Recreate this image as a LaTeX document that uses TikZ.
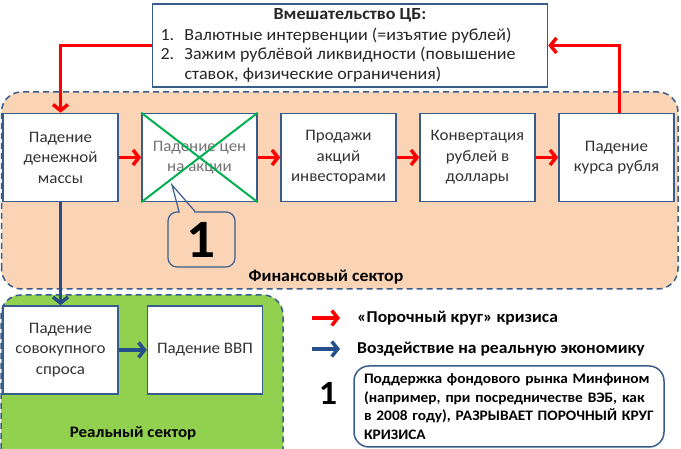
\documentclass[tikz,border=0pt]{standalone}
\usepackage{fontspec}
\setmainfont{Carlito}[FakeStretch=1.06]
\usetikzlibrary{arrows.meta}
\usetikzlibrary{positioning}
\definecolor{ramka}{HTML}{385D8A}
\definecolor{temno}{HTML}{254F8A}
\definecolor{persik}{HTML}{FBD4B6}
\definecolor{trava}{HTML}{92D050}
\definecolor{krestik}{HTML}{00B050}
\tikzset{
    blok/.style={
           rectangle,
           draw=ramka, line width=1.5pt,
           fill=white,
           minimum width=115pt, minimum height=88pt,
           inner sep=2pt,
           align=center,
           text=black!80,
           font=\fontsize{16}{20.5}\selectfont,
           },
}
\tikzset{
    zona/.style={
           draw=ramka, line width=1.5pt,
           dash pattern=on 6pt off 4pt,
           rounded corners=20pt,
           },
}
\tikzset{
    krug/.style={
           draw=red, line width=3.5pt,
           -{Straight Barb[length=6pt,width=15pt]},
           },
    vliyanie/.style={
           draw=temno, line width=3.5pt,
           -{Straight Barb[length=6pt,width=15pt]},
           },
    legenda/.style={
           anchor=west, inner sep=0pt,
           font=\fontsize{16.6}{19}\selectfont\bfseries,
           },
}

\begin{document}
\begin{tikzpicture}[x=1pt,y=1pt,node distance=139pt]
\useasboundingbox (0,0) rectangle (681,449);
\clip (0,0) rectangle (681,449);
% zones
\draw[zona,fill=persik] (1.5,160) rectangle (678,357);
\draw[zona,fill=trava] (1,-30) rectangle (283,154);
% CB
\node[rectangle,draw=ramka,line width=1.5pt,fill=white,minimum width=395pt,
      minimum height=83pt,inner xsep=8pt,inner ysep=1pt,
      font=\fontsize{17}{19.5}\selectfont,text=black!85] (cb) at (350,403.5)
 {\begin{tabular}{@{}p{24pt}@{}l@{}}
  \multicolumn{2}{@{}c@{}}{\makebox[379pt]{\bfseries Вмешательство ЦБ:}}\\[1.5pt]
  1.&Валютные интервенции (=изъятие рублей)\\
  2.&Зажим рублёвой ликвидности (повышение\\
  &ставок, физические ограничения)
 \end{tabular}};
% financial sector
\node[blok] (masa) at (60.5,291.5) {Падение\\денежной\\массы};
\node[blok,right of=masa,text=black!55] (akcii) {Падение цен\\на акции};
\node[blok,right of=akcii] (prodazhi) {Продажи\\акций\\инвесторами};
\node[blok,right of=prodazhi] (konv) {Конвертация\\рублей в\\доллары};
\node[blok,right of=konv] (kurs) {Падение\\курса рубля};
\draw[krestik,line width=2pt] (akcii.north west) -- (akcii.south east)
     (akcii.north east) -- (akcii.south west);
\draw[krug] (masa) -- (akcii);
\draw[krug] (akcii) -- (prodazhi);
\draw[krug] (prodazhi) -- (konv);
\draw[krug] (konv) -- (kurs);
\draw[krug] (cb.west) -| (masa.north);
\draw[krug] ([xshift=3pt]kurs.north) |- (cb.east);
% callout 1
\node[draw=ramka,line width=1.2pt,rounded corners=9pt,minimum width=67pt,
      minimum height=55pt,inner sep=0pt,font=\fontsize{54}{54}\selectfont\bfseries] (odin) at (201.5,209.5) {1};
\coordinate (ukaz) at (172,264);
\draw[persik,line width=2.5pt] ([xshift=-21.5pt]odin.north) -- ([xshift=-7.5pt]odin.north);
\draw[ramka,line width=1.2pt] ([xshift=-22.5pt]odin.north) -- (ukaz) -- ([xshift=-6.5pt]odin.north);
\node[font=\fontsize{16.8}{18}\selectfont\bfseries] (fin) at (326,172) {Финансовый сектор};
% real sector
\node[blok] (spros) at (60.5,99) {Падение\\совокупного\\спроса};
\node[blok,right=28pt of spros] (vvp) {Падение ВВП};
\draw[vliyanie] (masa) -- (spros);
\draw[vliyanie] (spros) -- (vvp);
\node[font=\fontsize{16}{18}\selectfont\bfseries] (real) at (133,16) {Реальный сектор};
% legend
\coordinate (kr1) at (312,131);
\coordinate (kr2) at (340,131);
\coordinate (vl1) at (312,100);
\coordinate (vl2) at (340,100);
\draw[krug] (kr1) -- (kr2);
\draw[vliyanie] (vl1) -- (vl2);
\node[legenda] (tkrug) at (357,131) {«Порочный круг» кризиса};
\node[legenda] (tvliyanie) at (357,100) {Воздействие на реальную экономику};
\node[font=\fontsize{34}{34}\selectfont\bfseries] (odin2) at (328,56) {1};
\node[draw=ramka,line width=1.5pt,rounded corners=15pt,minimum width=310pt,
      minimum height=81pt,text width=290pt,align=left,
      font=\fontsize{14.5}{18.5}\selectfont\bfseries] (zametka) at (509,42.5)
 {Поддержка фондового рынка Минфином\\(например, при посредничестве ВЭБ, как\\в 2008 году), РАЗРЫВАЕТ ПОРОЧНЫЙ КРУГ\\КРИЗИСА};
\end{tikzpicture}
\end{document}
